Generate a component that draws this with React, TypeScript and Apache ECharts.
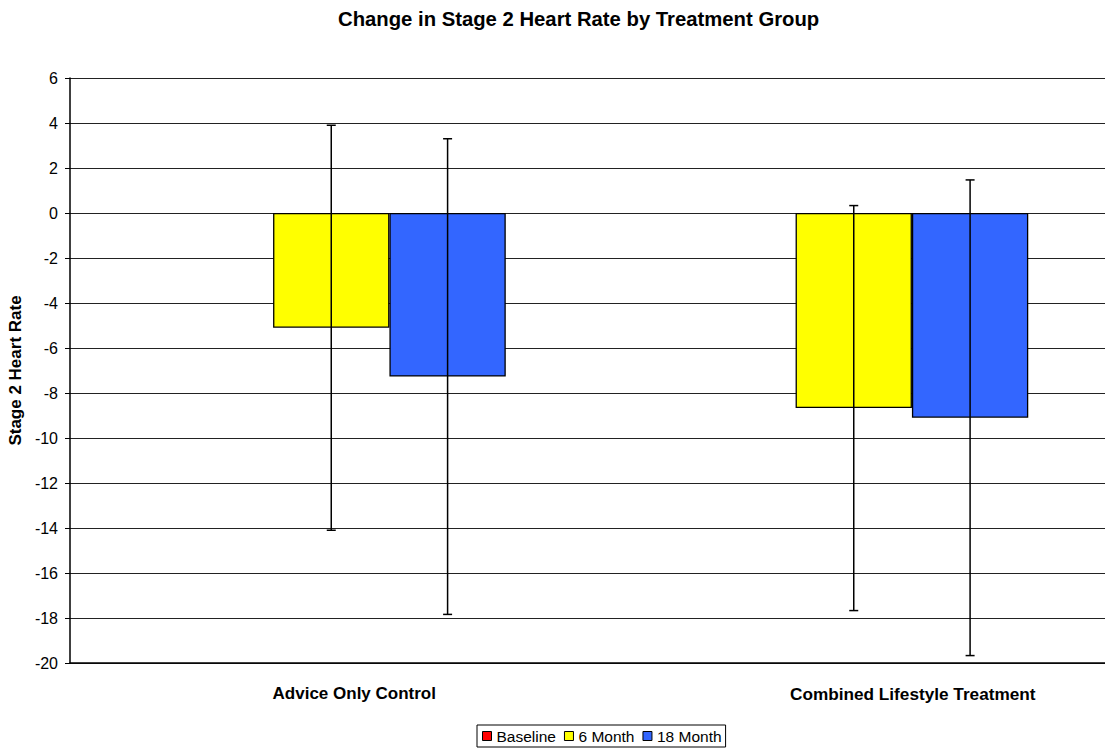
import React, { useEffect, useRef } from "react";
import * as echarts from "echarts";

const categories = ["Advice Only Control", "Combined Lifestyle Treatment"];
const seriesNames = ["Baseline", "6 Month", "18 Month"];
const baseline = [0, 0];
const sixMonth = [-5.1, -8.67];
const eighteenMonth = [-7.27, -9.1];
const sixMonthErr = [9.0, 9.0];
const eighteenMonthErr = [10.57, 10.57];
const yTicks = { min: -20, max: 6, interval: 2 };

const FONT = "'Liberation Sans', Arial, Helvetica, sans-serif";
const CAT_GAP = 0.332;

export default function App() {
  const ref = useRef<HTMLDivElement>(null);
  useEffect(() => {
    if (!ref.current) return;
    const chart = echarts.init(ref.current, undefined, { renderer: "svg" });
    const errData: number[][] = [];
    sixMonth.forEach((m, i) => errData.push([i, m, sixMonthErr[i], 1]));
    eighteenMonth.forEach((m, i) => errData.push([i, m, eighteenMonthErr[i], 2]));

    const barStyle = (color: string, bw = 1.3) => ({
      color,
      borderColor: "#000",
      borderWidth: bw,
    });

    chart.setOption({
      animation: false,
      backgroundColor: "#fff",
      title: {
        text: "Change in Stage 2 Heart Rate by Treatment Group",
        left: 333,
        top: 4,
        textStyle: { fontFamily: FONT, fontSize: 20.3, fontWeight: "bold", color: "#000" },
      },
      legend: {
        data: seriesNames,
        left: 477,
        top: 725,
        orient: "horizontal",
        icon: "rect",
        itemWidth: 9,
        itemHeight: 9,
        itemGap: 8,
        borderColor: "#000",
        borderWidth: 1,
        padding: [3, 4, 3, 5],
        itemStyle: { borderColor: "#000", borderWidth: 1 },
        textStyle: { fontFamily: FONT, fontSize: 15.5, color: "#000" },
      },
      grid: { left: 70, width: 1045, top: 78, bottom: 88, outerBoundsMode: "none", containLabel: false },
      xAxis: {
        type: "category",
        data: categories,
        axisLine: { onZero: false, lineStyle: { color: "#000", width: 1.5 } },
        axisTick: { show: false },
        axisLabel: {
          margin: 22,
          interval: 0,
          formatter: (v: string, i: number) => (i === 0 ? `{a|${v}}` : `{b|${v}}`),
          rich: {
            a: { padding: [0, 0, 0, 46], fontFamily: FONT, fontSize: 17, fontWeight: "bold", color: "#000" },
            b: { padding: [0, 0, 0, 118], fontFamily: FONT, fontSize: 17.2, fontWeight: "bold", color: "#000" },
          },
        },
      },
      yAxis: {
        type: "value",
        min: yTicks.min,
        max: yTicks.max,
        interval: yTicks.interval,
        name: "Stage 2 Heart Rate",
        nameLocation: "middle",
        nameGap: 43,
        nameTextStyle: { fontFamily: FONT, fontSize: 17, fontWeight: "bold", color: "#000" },
        axisLine: { show: true, lineStyle: { color: "#000", width: 1.5 } },
        axisTick: { show: true, length: 5, lineStyle: { color: "#000" } },
        axisLabel: { margin: 12, fontFamily: FONT, fontSize: 16, color: "#000" },
        splitLine: { show: true, lineStyle: { color: "#222", width: 1 } },
      },
      series: [
        {
          name: "Baseline",
          type: "bar",
          data: baseline,
          barGap: "0%",
          barCategoryGap: `${CAT_GAP * 100}%`,
          itemStyle: barStyle("#FF0000", 0),
        },
        {
          name: "6 Month",
          type: "bar",
          data: sixMonth,
          barGap: "0%",
          barCategoryGap: `${CAT_GAP * 100}%`,
          itemStyle: barStyle("#FFFF00"),
        },
        {
          name: "18 Month",
          type: "bar",
          data: eighteenMonth,
          barGap: "0%",
          barCategoryGap: `${CAT_GAP * 100}%`,
          itemStyle: barStyle("#3366FF"),
        },
        {
          name: "errors",
          type: "custom",
          z: 5,
          silent: true,
          encode: { x: 0, y: 1 },
          data: errData,
          renderItem: (params: any, api: any) => {
            const cat = api.value(0);
            const mean = api.value(1);
            const err = api.value(2);
            const slot = api.value(3);
            const bandW = api.size([1, 0])[0];
            const barW = (bandW * (1 - CAT_GAP)) / 3;
            const c = api.coord([cat, mean]);
            const x = c[0] + (slot - 1) * barW;
            const top = api.coord([cat, mean + err])[1];
            const bot = api.coord([cat, mean - err])[1];
            const cap = 4.5;
            const st = { stroke: "#000", lineWidth: 1.5 };
            return {
              type: "group",
              children: [
                { type: "line", shape: { x1: x, y1: top, x2: x, y2: bot }, style: st },
                { type: "line", shape: { x1: x - cap, y1: top, x2: x + cap, y2: top }, style: st },
                { type: "line", shape: { x1: x - cap, y1: bot, x2: x + cap, y2: bot }, style: st },
              ],
            };
          },
        },
      ],
    });
    return () => chart.dispose();
  }, []);
  return (
    <div
      ref={ref}
      style={{ position: "fixed", left: 0, top: 0, width: 1105, height: 751, background: "#fff" }}
    />
  );
}
